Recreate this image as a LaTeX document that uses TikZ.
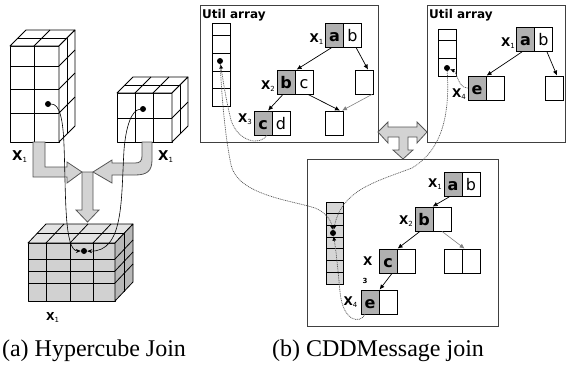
\documentclass[tikz,border=0pt]{standalone}
\usepackage{fontspec}
\setmainfont{Liberation Serif}
\newfontfamily\capfont{Liberation Serif}
\newfontfamily\dvs{DejaVu Sans}
\usetikzlibrary{arrows.meta}
\definecolor{cellgray}{HTML}{B0B0B0}
\definecolor{ufill}{HTML}{D6D6D6}
\definecolor{arrowfill}{HTML}{D3D3D3}
\definecolor{arrowline}{HTML}{555555}
\definecolor{panelline}{HTML}{404040}
\definecolor{ptrcol}{HTML}{5A5A5A}
\colorlet{cubeF}{white}
\colorlet{cubeT}{white}
\colorlet{cubeS}{white}
\newcommand{\hcube}[8]{%
 \filldraw[cubeline, fill=cubeF] (#1,#2) rectangle (#3,#4);
 \filldraw[cubeline, fill=cubeT] (#1,#2) -- (#1+#5,#2-#6) -- (#3+#5,#2-#6) -- (#3,#2) -- cycle;
 \filldraw[cubeline, fill=cubeS] (#3,#2) -- (#3+#5,#2-#6) -- (#3+#5,#4-#6) -- (#3,#4) -- cycle;
 \foreach \cc in {#7}{\draw[cubeline] (\cc,#2) -- (\cc,#4); \draw[cubeline] (\cc,#2) -- (\cc+#5,#2-#6);}
 \foreach \rr in {#8}{\draw[cubeline] (#1,\rr) -- (#3,\rr); \draw[cubeline] (#3,\rr) -- (#3+#5,\rr-#6);}
 \draw[cubeline] (#1+#5/2,#2-#6/2) -- (#3+#5/2,#2-#6/2) -- (#3+#5/2,#4-#6/2);
}
\newcommand{\sbx}[1]{\raisebox{-2pt}{\fontsize{7}{7}\selectfont\mdseries #1}}
\begin{document}
\begin{tikzpicture}[x=1pt,y=-1pt,
  cubeline/.style={draw=black, line width=0.8pt, line join=round},
  gcell/.style={draw, fill=cellgray, line width=0.8pt, minimum width=18pt, minimum height=24pt, inner sep=0pt, text height=12pt, text depth=0pt, font=\dvs\bfseries\fontsize{16}{16}\selectfont},
  wcell/.style={draw, fill=white, line width=0.8pt, minimum width=18pt, minimum height=24pt, inner sep=0pt, text height=12pt, text depth=0pt, font=\dvs\fontsize{16}{16}\selectfont},
  xlab/.style={font=\dvs\bfseries\fontsize{12}{12}\selectfont, inner sep=0pt, anchor=base east},
  biglab/.style={font=\dvs\bfseries\fontsize{13.5}{13.5}\selectfont, inner sep=0pt, anchor=base west},
  ulab/.style={font=\dvs\bfseries\fontsize{12}{12}\selectfont, inner sep=0pt, anchor=base west},
  tarrow/.style={-{Latex[length=5pt,width=4.5pt]}, line width=0.7pt},
  sarrow/.style={-{Latex[length=5pt,width=4.5pt]}, line width=0.6pt, draw=gray},
  ptr/.style={dash pattern=on 1pt off 0.8pt, draw=ptrcol, line width=0.7pt, -{Latex[length=4.5pt,width=4pt,color=black]}},
  lcurve/.style={draw=black, line width=0.6pt, -{Stealth[length=5pt,width=4pt]}},
  dotnode/.style={circle, fill=black, inner sep=0pt, minimum size=6pt},
  bigarrow/.style={fill=arrowfill, draw=arrowline, line width=0.8pt, line join=miter},
  panel/.style={draw=panelline, line width=1pt},
  ucell/.style={draw=black, line width=0.8pt},
  captext/.style={font=\capfont\fontsize{24}{28}\selectfont, inner sep=0pt, anchor=base}]
\useasboundingbox (0,0) rectangle (566,367);

% ---------------- (a) hypercube join ----------------
\hcube{10}{46}{59}{142}{16}{16}{34}{66,89,113}
\hcube{117}{93}{172}{142}{16}{16}{135,153}{118}
\colorlet{cubeF}{black!18}
\colorlet{cubeT}{black!11}
\colorlet{cubeS}{black!28}
\hcube{28}{243}{115}{301}{18}{19}{46,70,93}{259,271,283}

\filldraw[bigarrow] (33,142) -- (45,142) -- (45,167) -- (67,167) -- (67,162) -- (82,172) -- (67,183) -- (67,177) -- (33,177) -- cycle;
\filldraw[bigarrow] (142,142) -- (152,142) -- (152,160) .. controls (152,171) and (147,175) .. (135,175) -- (112,175) -- (112,183) -- (93,172) -- (112,160) -- (112,163) -- (135,163) .. controls (140,163) and (142,161) .. (142,156) -- cycle;
\filldraw[bigarrow] (82,172) -- (93,172) -- (93,210) -- (99,210) -- (87.5,222) -- (76,210) -- (82,210) -- cycle;

\node[dotnode] (d1) at (48,104) {};
\node[dotnode] (d2) at (143,109) {};
\node[dotnode] (d3) at (84,251) {};
\draw[lcurve] (d1) .. controls (60,104) and (63,120) .. (64,145) .. controls (66,195) and (64,251) .. (d3);
\draw[lcurve] (d2) .. controls (132,110) and (126,125) .. (124,150) .. controls (121,200) and (124,252) .. (d3);

\node[biglab] (la1) at (12,160) {X\sbx{1}};
\node[biglab] (la2) at (158,160) {X\sbx{1}};
\node[biglab, font=\dvs\bfseries\fontsize{11}{11}\selectfont] (la3) at (46,320) {X\sbx{1}};

\node[captext] (capa) at (94,356) {(a) Hypercube Join};
\node[captext] (capb) at (378,356) {(b) CDDMessage join};

% ---------------- (b) panels ----------------
\draw[panel] (200,5) rectangle (378,142);
\draw[panel] (427,5) rectangle (565,142);
\draw[panel] (307,159) rectangle (498,326);

\filldraw[bigarrow] (378,132) -- (388,122) -- (388,127) -- (417,127) -- (417,122) -- (427,132) -- (417,143) -- (417,137) -- (408,137) -- (408,150) -- (413,150) -- (403,159) -- (393,150) -- (399,150) -- (399,137) -- (388,137) -- (388,143) -- cycle;

% panel 1
\node[ulab] (t1) at (202,18.3) {Util array};
\draw[ucell] (212,23) rectangle (230,106);
\foreach \yy in {35,53,71,88} \draw[ucell] (212,\yy) -- (230,\yy);
\node[dotnode] (u1) at (220,61) {};

\node[gcell] (p1a) at (334.5,35) {a};
\node[wcell] (p1aw) at (352.5,35) {b};
\node[gcell] (p1b) at (286,82) {b};
\node[wcell] (p1bw) at (304,82) {c};
\node[gcell] (p1c) at (263,123) {c};
\node[wcell] (p1cw) at (281,123) {d};
\node[wcell] (p1r) at (364.5,82) {};
\node[wcell] (p1m) at (334,123) {};
\node[xlab] (x11) at ([xshift=-1.5pt,yshift=-7pt]p1a.west) {X\sbx{1}};
\node[xlab] (x12) at ([xshift=-1.5pt,yshift=-7pt]p1b.west) {X\sbx{2}};
\node[xlab] (x13) at ([xshift=-1.5pt,yshift=1pt]p1c.west) {X\sbx{3}};
\draw[tarrow] ([xshift=-2.5pt]p1a.south) -- ([xshift=2pt]p1bw.north west);
\draw[tarrow] ([xshift=3.5pt]p1aw.south) -- ([xshift=3.5pt]p1r.north);
\draw[tarrow] ([xshift=-3pt]p1b.south) -- ([xshift=5pt]p1c.north);
\draw[tarrow] ([xshift=4pt]p1bw.south) -- ([xshift=6pt]p1m.north);
\draw[sarrow] ([xshift=7.5pt]p1r.south) -- ([xshift=8pt]p1m.north);

% panel 2
\node[ulab] (t2) at (429,18.3) {Util array};
\draw[ucell] (438,29) rectangle (456,76);
\foreach \yy in {40,58} \draw[ucell] (438,\yy) -- (456,\yy);
\node[dotnode] (u2) at (447,68) {};
\node[gcell] (p2a) at (525.5,39.5) {a};
\node[wcell] (p2aw) at (543.5,39.5) {b};
\node[gcell] (p2e) at (477,88) {e};
\node[wcell] (p2ew) at (495,88) {};
\node[wcell] (p2r) at (554.5,88) {};
\node[xlab] (x21) at ([xshift=-1pt,yshift=-7pt]p2a.west) {X\sbx{1}};
\node[xlab] (x24) at ([xshift=-1.5pt,yshift=-9pt]p2e.west) {X\sbx{4}};
\draw[tarrow] ([xshift=-3.5pt]p2a.south) -- ([xshift=1pt]p2ew.north west);
\draw[tarrow] ([xshift=3.5pt]p2aw.south) -- ([xshift=2.5pt]p2r.north);

% panel 3
\filldraw[ucell, fill=ufill] (326,202) rectangle (343,284);
\foreach \yy in {213.7,225.4,237.1,248.8,260.5,272.2} \draw[ucell] (326,\yy) -- (343,\yy);
\node[dotnode] (u3) at (333,233) {};
\node[gcell] (p3a) at (453,184) {a};
\node[wcell] (p3aw) at (471,184) {b};
\node[gcell] (p3b) at (424,219) {b};
\node[wcell] (p3bw) at (442,219) {};
\node[gcell] (p3c) at (388,261) {c};
\node[wcell] (p3cw) at (406,261) {};
\node[wcell] (p3p) at (453,261) {};
\node[wcell] (p3pw) at (471,261) {};
\node[gcell] (p3e) at (370,302) {e};
\node[wcell] (p3ew) at (388,302) {};
\node[xlab] (x31) at ([xshift=-1.5pt,yshift=-3pt]p3a.west) {X\sbx{1}};
\node[xlab] (x32) at ([xshift=-1.5pt,yshift=-5pt]p3b.west) {X\sbx{2}};
\node[xlab] (x33) at ([xshift=-6pt,yshift=-4pt]p3c.west) {X};
\node[inner sep=0pt, font=\dvs\bfseries\fontsize{7}{7}\selectfont] (x33s) at (365,280.5) {3};
\node[xlab] (x34) at ([xshift=-3pt,yshift=-3pt]p3e.west) {X\sbx{4}};
\draw[tarrow] ([xshift=-3pt]p3a.south) -- (p3bw.north west);
\draw[tarrow] ([xshift=-4pt]p3b.south) -- ([xshift=1pt]p3cw.north west);
\draw[sarrow] (p3bw.south) -- ([xshift=3pt]p3pw.north west);
\draw[tarrow] ([xshift=4pt]p3c.south) -- ([xshift=1pt]p3ew.north west);

% pointers
\draw[ptr] ([xshift=4pt]p1c.south) .. controls (260,146) and (238,142) .. (231,120) .. controls (226,100) and (223,80) .. (u1);
\draw[ptr] (u1) .. controls (222,100) and (225,135) .. (231,165) .. controls (238,195) and (290,200) .. (315,208) .. controls (325,212) and (331,220) .. (u3);
\draw[ptr] (p2e.west) .. controls (458,88) and (457,72) .. (u2);
\draw[ptr] (u2) .. controls (450,115) and (442,150) .. (412,168) .. controls (375,182) and (342,190) .. (u3);
\draw[ptr] ([xshift=-5pt]p3e.south) .. controls (360,324) and (343,322) .. (340,292) .. controls (338,270) and (336,250) .. (u3);
\end{tikzpicture}
\end{document}
